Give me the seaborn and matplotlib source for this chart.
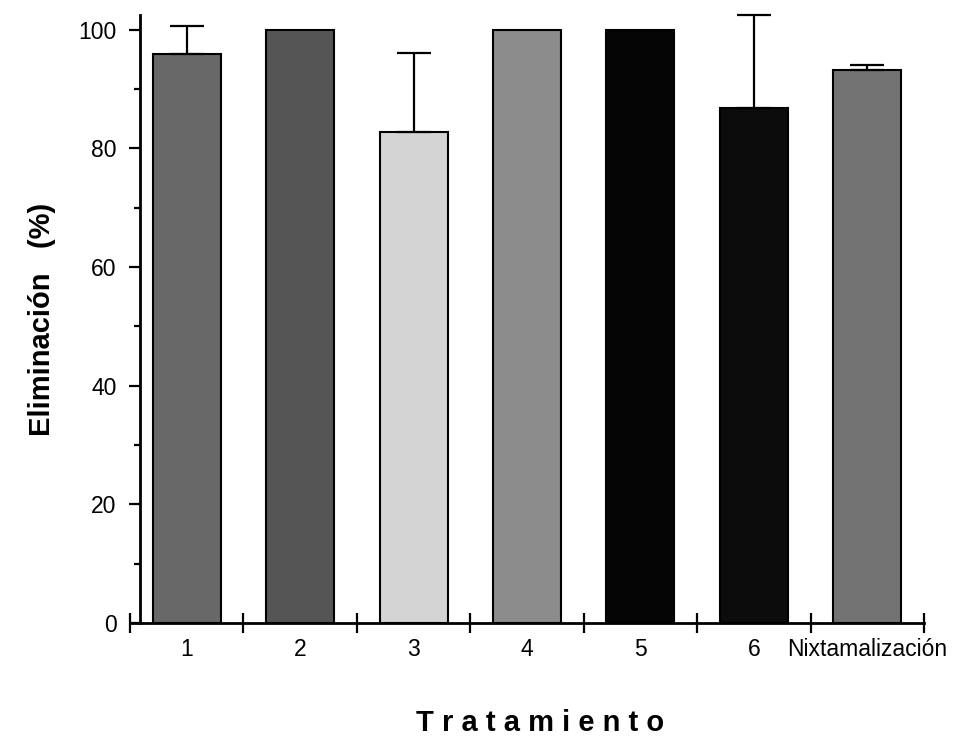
import matplotlib
matplotlib.use("Agg")
import matplotlib.pyplot as plt
import seaborn as sns
import pandas as pd
import numpy as np

# ---- data ----
categories = ["1", "2", "3", "4", "5", "6", "Nixtamalización"]
elimination = [96.0, 100.0, 82.8, 100.0, 100.0, 86.9, 93.3]
error_upper = [4.7, 0.0, 13.3, 0.0, 0.0, 15.6, 0.8]
bar_colors = ["#686868", "#555555", "#d4d4d4", "#8c8c8c", "#050505", "#0c0c0c", "#727272"]
y_ticks = [0, 20, 40, 60, 80, 100]

sns.set_theme(style="white")
plt.rcParams["font.family"] = ["Liberation Sans", "DejaVu Sans"]
plt.rcParams["text.color"] = "black"
plt.rcParams["axes.labelcolor"] = "black"
plt.rcParams["xtick.color"] = "black"
plt.rcParams["ytick.color"] = "black"

df = pd.DataFrame({"Tratamiento": categories, "Eliminacion": elimination})

fig = plt.figure(figsize=(9.68, 7.44), dpi=100)
ax = fig.add_axes([0.1343, 0.1626, 0.8202, 0.8172])

sns.barplot(data=df, x="Tratamiento", y="Eliminacion", hue="Tratamiento",
            palette=bar_colors, legend=False, width=0.6,
            edgecolor="black", linewidth=1.5, ax=ax, errorbar=None)

pos = np.arange(len(categories))
err = np.array(error_upper)
vals = np.array(elimination)
has_err = err > 0
ax.errorbar(pos[has_err], vals[has_err],
            yerr=[np.zeros(has_err.sum()), err[has_err]],
            fmt="none", ecolor="black", elinewidth=1.6, capsize=12, capthick=1.6,
            clip_on=False, zorder=5)

ax.set_xlim(-0.5, 6.5)
ax.set_ylim(0, 102.5)

for s in ["top", "right"]:
    ax.spines[s].set_visible(False)
ax.spines["left"].set_position(("data", -0.41))
ax.spines["left"].set_linewidth(2)
ax.spines["bottom"].set_linewidth(2)
ax.spines["left"].set_color("black")
ax.spines["bottom"].set_color("black")

# y ticks
ax.set_yticks(y_ticks)
ax.set_yticklabels([str(v) for v in y_ticks], fontsize=16.5, color="black")
ax.set_yticks([10, 30, 50, 70, 90], minor=True)
ax.tick_params(axis="y", which="major", direction="out", length=8, width=1.6,
               pad=9, left=True, color="black", labelcolor="black")
ax.tick_params(axis="y", which="minor", direction="out", length=4, width=1.6,
               left=True, color="black")

# x ticks: labels at centers, tick marks at boundaries
ax.set_xticks(pos)
ax.set_xticklabels(categories, fontsize=16.5, color="black")
ax.set_xticks(np.arange(-0.5, 7.0, 1.0), minor=True)
ax.tick_params(axis="x", which="major", length=0, pad=11, bottom=True,
               labelcolor="black")
ax.tick_params(axis="x", which="minor", direction="inout", length=14, width=1.6,
               bottom=True, color="black")

ax.set_ylabel("Eliminación   (%)", fontsize=21, fontweight="bold", color="black")
ax.yaxis.set_label_coords(-0.093, 0.5)
ax.set_xlabel("T r a t a m i e n t o", fontsize=21, fontweight="bold", color="black")
ax.xaxis.set_label_coords(0.516, -0.142)

fig.savefig("out.png", dpi=100)
